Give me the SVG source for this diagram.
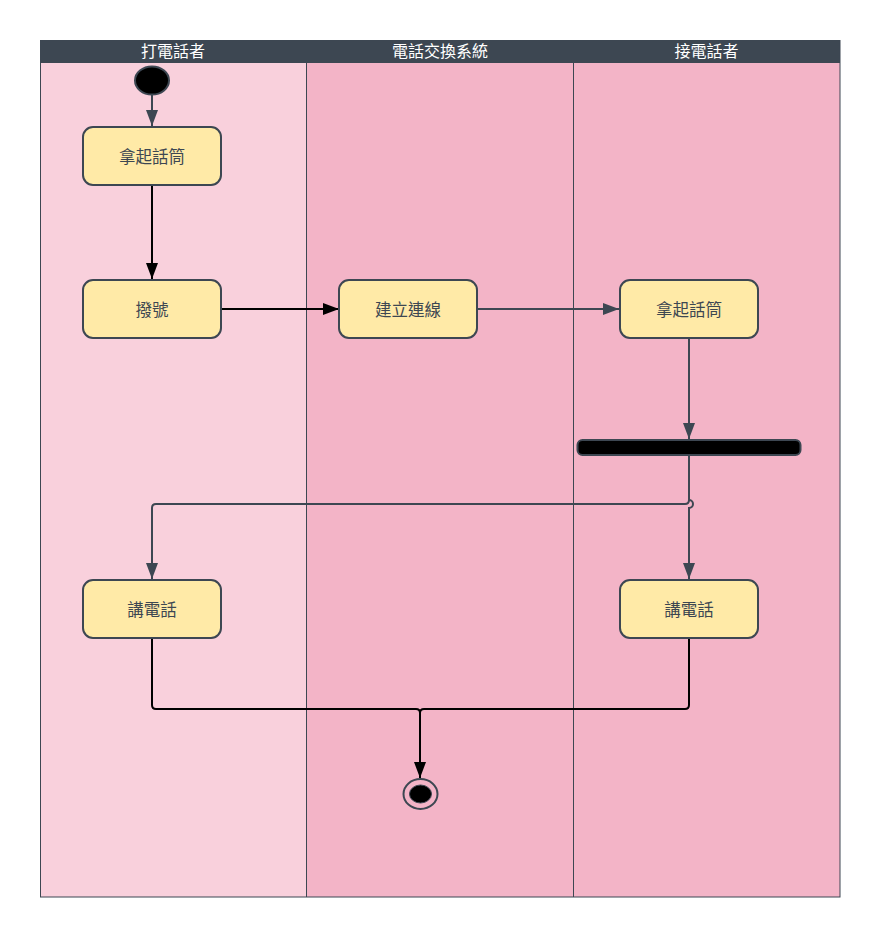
<svg xmlns="http://www.w3.org/2000/svg" width="880" height="937" viewBox="0 0 880 937">
<style>
.lane1{fill:#f9d0dc}
.lane2{fill:#f3b4c7}
.div{stroke:#3d4752;stroke-width:1;fill:none}
.hdr{fill:#3d4752}
.htxt{fill:#ffffff;font-family:"Noto Sans CJK TC","Noto Sans CJK SC",sans-serif;font-size:16px;text-anchor:middle}
.act{fill:#ffeaa7;stroke:#3d4752;stroke-width:2}
.atxt{fill:#3d4752;font-family:"Noto Sans CJK TC","Noto Sans CJK SC",sans-serif;font-size:16.5px;text-anchor:middle;dominant-baseline:central}
.cg{fill:none;stroke:#3d4752;stroke-width:2}
.cb{fill:none;stroke:#000000;stroke-width:2}
</style>
<defs>
<marker id="ag" viewBox="0 0 16 12" refX="16" refY="6" markerWidth="16" markerHeight="12" markerUnits="userSpaceOnUse" orient="auto">
<path d="M0,0 L16,6 L0,12 z" fill="#3d4752"/>
</marker>
<marker id="ab" viewBox="0 0 16 12" refX="16" refY="6" markerWidth="16" markerHeight="12" markerUnits="userSpaceOnUse" orient="auto">
<path d="M0,0 L16,6 L0,12 z" fill="#000000"/>
</marker>
</defs>
<rect width="880" height="937" fill="#ffffff"/>
<g id="swimlanes">
<rect class="lane1" x="40" y="40" width="266" height="857"/>
<rect class="lane2" x="306" y="40" width="267" height="857"/>
<rect class="lane2" x="573" y="40" width="267" height="857"/>
<rect class="hdr" x="40" y="40" width="800" height="23"/>
<line class="div" x1="306.5" y1="63" x2="306.5" y2="897"/>
<line class="div" x1="573.5" y1="63" x2="573.5" y2="897"/>
<rect class="div" x="40.5" y="40.5" width="799.5" height="856.5"/>
<text class="htxt" x="173" y="57">打電話者</text>
<text class="htxt" x="440" y="57">電話交換系統</text>
<text class="htxt" x="706.5" y="57">接電話者</text>
</g>
<g id="connectors">
<path class="cg" d="M152,95 V126" marker-end="url(#ag)"/>
<path class="cb" d="M152,185 V279" marker-end="url(#ab)"/>
<path class="cb" d="M221,309 H339" marker-end="url(#ab)"/>
<path class="cg" d="M477,309 H619" marker-end="url(#ag)"/>
<path class="cg" d="M689,338 V439" marker-end="url(#ag)"/>
<path class="cg" d="M689,455 V500 a4,4 0 0 1 0,8 V579" marker-end="url(#ag)"/>
<path class="cg" d="M689,455 V500 Q689,504 685,504 H156 Q152,504 152,508 V579" marker-end="url(#ag)"/>
<path class="cb" d="M152,638 V705 Q152,709 156,709 H416 Q420,709 420,713 V778" marker-end="url(#ab)"/>
<path class="cb" d="M689,638 V705 Q689,709 685,709 H424 Q420,709 420,713"/>
</g>
<g id="start">
<ellipse cx="152" cy="80.5" rx="17" ry="14" fill="#000000" stroke="#3d4752" stroke-width="2"/>
</g>
<g id="pickup1">
<rect class="act" x="83" y="127" width="138" height="58" rx="10"/>
<text class="atxt" x="152" y="156">拿起話筒</text>
</g>
<g id="dial">
<rect class="act" x="83" y="280" width="138" height="58" rx="10"/>
<text class="atxt" x="152" y="309">撥號</text>
</g>
<g id="connect">
<rect class="act" x="339" y="280" width="138" height="58" rx="10"/>
<text class="atxt" x="408" y="309">建立連線</text>
</g>
<g id="pickup2">
<rect class="act" x="620" y="280" width="138" height="58" rx="10"/>
<text class="atxt" x="689" y="309">拿起話筒</text>
</g>
<g id="fork">
<rect x="577.5" y="440" width="223" height="15" rx="5" fill="#000000" stroke="#3d4752" stroke-width="2"/>
</g>
<g id="talk1">
<rect class="act" x="83" y="580" width="138" height="58" rx="10"/>
<text class="atxt" x="152" y="609">講電話</text>
</g>
<g id="talk2">
<rect class="act" x="620" y="580" width="138" height="58" rx="10"/>
<text class="atxt" x="689" y="609">講電話</text>
</g>
<g id="end">
<ellipse cx="420.5" cy="794" rx="17" ry="15" fill="none" stroke="#3d4752" stroke-width="2"/>
<ellipse cx="420.5" cy="794" rx="11" ry="9" fill="#000000" stroke="#3d4752" stroke-width="1"/>
</g>
</svg>
